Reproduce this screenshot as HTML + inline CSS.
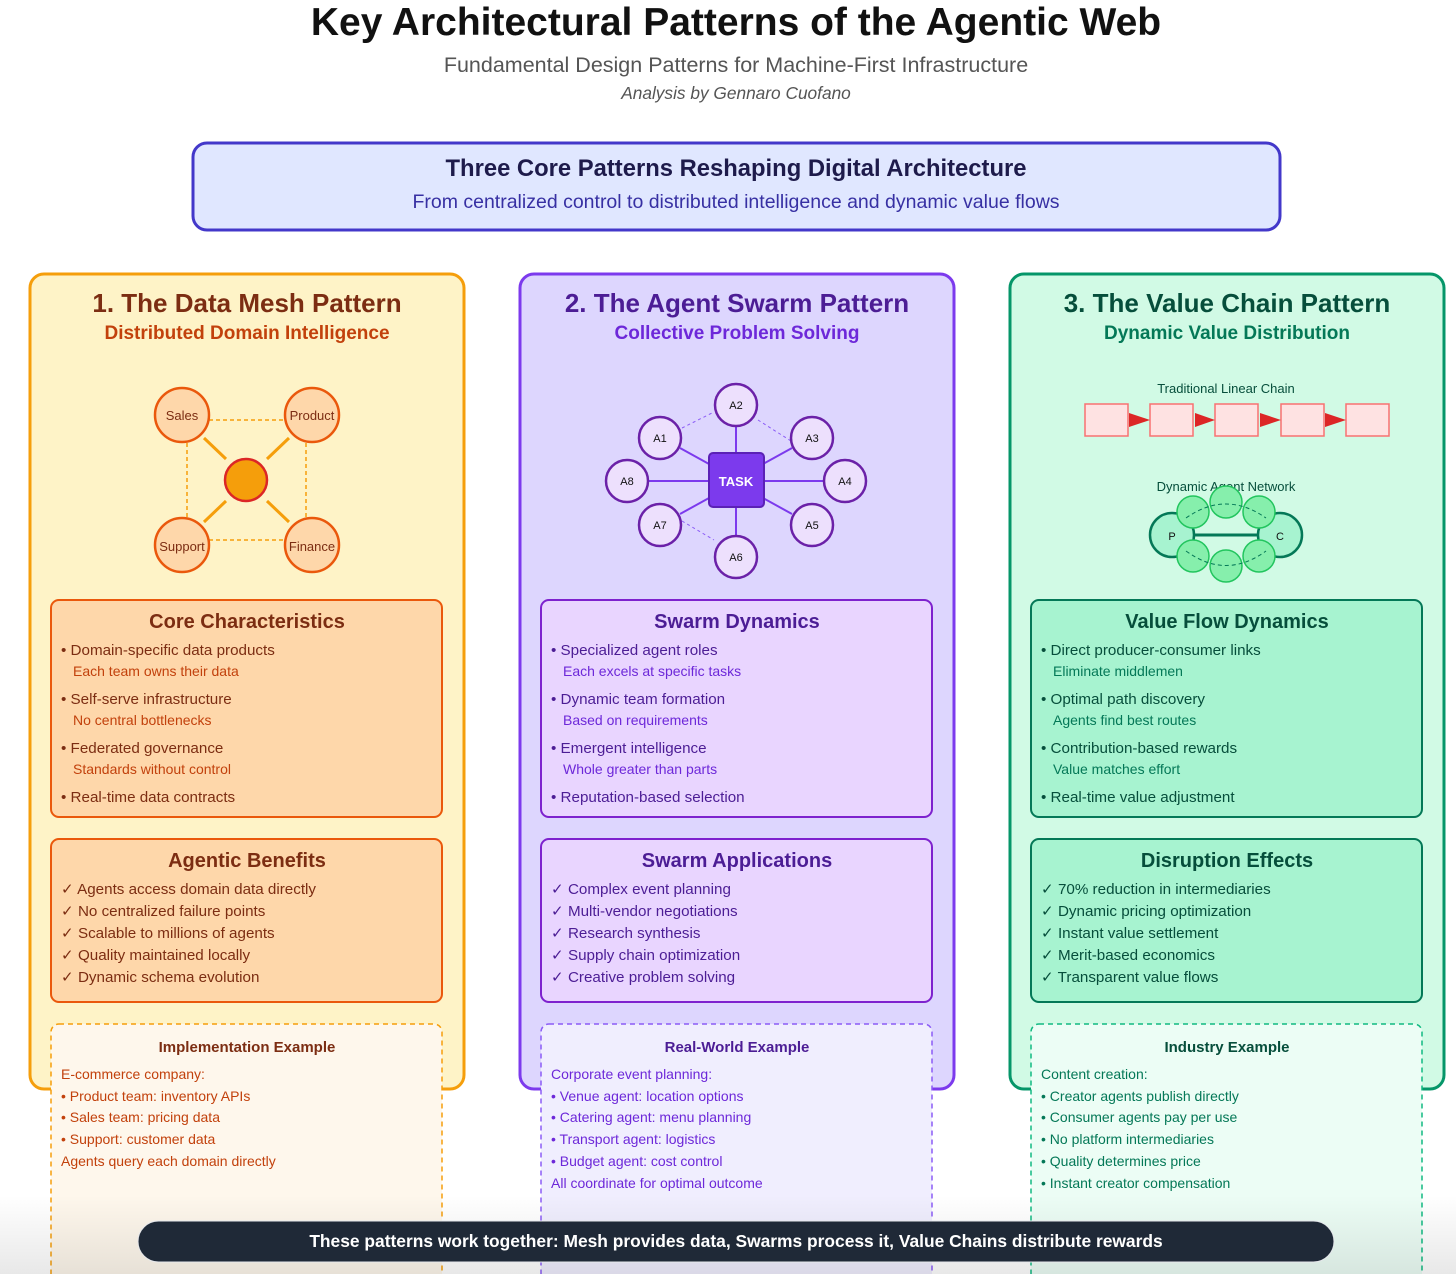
<!DOCTYPE html>
<html><head><meta charset="utf-8"><style>
html,body{margin:0;padding:0;background:#fff;}
svg{display:block;font-family:"Liberation Sans",Arial,sans-serif;}
</style></head><body>
<svg width="1456" height="1274" viewBox="0 0 1456 1274" xmlns="http://www.w3.org/2000/svg">
<defs>
<linearGradient id="fade" x1="0" y1="0" x2="0" y2="1">
<stop offset="0" stop-color="#000" stop-opacity="0"/>
<stop offset="1" stop-color="#000" stop-opacity="0.09"/>
</linearGradient>
</defs>
<rect width="1456" height="1274" fill="#fff"/>
<text x="736" y="35" text-anchor="middle" font-size="39" font-weight="bold" fill="#111">Key Architectural Patterns of the Agentic Web</text>
<text x="736" y="72" text-anchor="middle" font-size="21.5" fill="#555">Fundamental Design Patterns for Machine-First Infrastructure</text>
<text x="736" y="99" text-anchor="middle" font-size="17.3" font-style="italic" fill="#555">Analysis by Gennaro Cuofano</text>

<rect x="193" y="143" width="1087" height="87" rx="14" fill="#e0e7ff" stroke="#4338ca" stroke-width="3"/>
<text x="736" y="176" text-anchor="middle" font-size="23.8" font-weight="bold" fill="#1e1b4b">Three Core Patterns Reshaping Digital Architecture</text>
<text x="736" y="208" text-anchor="middle" font-size="19.5" fill="#3730a3">From centralized control to distributed intelligence and dynamic value flows</text>

<rect x="30" y="274" width="434" height="815" rx="14" fill="#fef3c7" stroke="#f59e0b" stroke-width="3"/>
<rect x="520" y="274" width="434" height="815" rx="14" fill="#ddd6fe" stroke="#7c3aed" stroke-width="3"/>
<rect x="1010" y="274" width="434" height="815" rx="14" fill="#d1fae5" stroke="#059669" stroke-width="3"/>

<g font-weight="bold" text-anchor="middle">
<text x="247" y="312" font-size="26" fill="#7c2d12">1. The Data Mesh Pattern</text>
<text x="247" y="339" font-size="19" fill="#c2410c">Distributed Domain Intelligence</text>
<text x="737" y="312" font-size="26" fill="#4c1d95">2. The Agent Swarm Pattern</text>
<text x="737" y="339" font-size="19" fill="#6d28d9">Collective Problem Solving</text>
<text x="1227" y="312" font-size="26" fill="#064e3b">3. The Value Chain Pattern</text>
<text x="1227" y="339" font-size="19" fill="#047857">Dynamic Value Distribution</text>
</g>

<g stroke="#f59e0b" stroke-width="1.5" stroke-dasharray="4,3" fill="none">
<line x1="209" y1="420" x2="285" y2="420"/><line x1="209" y1="540" x2="285" y2="540"/>
<line x1="187" y1="443" x2="187" y2="518"/><line x1="306" y1="443" x2="306" y2="518"/>
</g>
<g stroke="#f59e0b" stroke-width="3">
<line x1="204" y1="438" x2="226" y2="459"/><line x1="289" y1="438" x2="267" y2="459"/>
<line x1="204" y1="522" x2="226" y2="501"/><line x1="289" y1="522" x2="267" y2="501"/>
</g>
<g fill="#fed7aa" stroke="#ea580c" stroke-width="2.5">
<circle cx="182" cy="415" r="27"/><circle cx="312" cy="415" r="27"/>
<circle cx="182" cy="545" r="27"/><circle cx="312" cy="545" r="27"/>
</g>
<circle cx="246" cy="480" r="21" fill="#f59e0b" stroke="#dc2626" stroke-width="2.5"/>
<g font-size="13" fill="#7c2d12" text-anchor="middle">
<text x="182" y="420">Sales</text><text x="312" y="420">Product</text>
<text x="182" y="551">Support</text><text x="312" y="551">Finance</text>
</g>

<g stroke="#8b5cf6" stroke-width="1" stroke-dasharray="3,3">
<line x1="682" y1="428" x2="714" y2="412"/><line x1="758" y1="420" x2="791" y2="441"/>
<line x1="682" y1="521" x2="714" y2="540"/>
</g>
<g stroke="#7c3aed" stroke-width="2">
<line x1="736" y1="427" x2="736" y2="454"/><line x1="736" y1="507" x2="736" y2="535"/>
<line x1="649" y1="481" x2="709" y2="481"/><line x1="763" y1="481" x2="823" y2="481"/>
<line x1="680" y1="448" x2="709" y2="464"/><line x1="792" y1="448" x2="763" y2="464"/>
<line x1="680" y1="514" x2="709" y2="498"/><line x1="792" y1="514" x2="763" y2="498"/>
</g>
<g fill="#ede0fd" stroke="#6b21a8" stroke-width="2.5">
<circle cx="736" cy="405" r="21"/><circle cx="660" cy="438" r="21"/><circle cx="812" cy="438" r="21"/>
<circle cx="627" cy="481" r="21"/><circle cx="845" cy="481" r="21"/><circle cx="660" cy="525" r="21"/>
<circle cx="812" cy="525" r="21"/><circle cx="736" cy="557" r="21"/>
</g>
<rect x="709" y="453" width="55" height="54" rx="4" fill="#7c3aed" stroke="#5b21b6" stroke-width="2"/>
<text x="736" y="486" text-anchor="middle" font-size="13" font-weight="bold" fill="#fff">TASK</text>
<g font-size="11" fill="#111" text-anchor="middle">
<text x="736" y="409">A2</text><text x="660" y="442">A1</text><text x="812" y="442">A3</text>
<text x="627" y="485">A8</text><text x="845" y="485">A4</text><text x="660" y="529">A7</text>
<text x="812" y="529">A5</text><text x="736" y="561">A6</text>
</g>

<text x="1226" y="393" text-anchor="middle" font-size="13" fill="#064e3b">Traditional Linear Chain</text>
<g fill="#fee2e2" stroke="#f87171" stroke-width="1.5">
<rect x="1085" y="404" width="43" height="32"/><rect x="1150" y="404" width="43" height="32"/>
<rect x="1215" y="404" width="43" height="32"/><rect x="1281" y="404" width="43" height="32"/>
<rect x="1346" y="404" width="43" height="32"/>
</g>
<g fill="#dc2626">
<polygon points="1129,413 1150,420 1129,427"/><polygon points="1195,413 1215,420 1195,427"/>
<polygon points="1260,413 1281,420 1260,427"/><polygon points="1325,413 1346,420 1325,427"/>
</g>
<text x="1226" y="491" text-anchor="middle" font-size="13" fill="#064e3b">Dynamic Agent Network</text>
<circle cx="1172" cy="535" r="22" fill="#a7f3d0" stroke="#047857" stroke-width="2.5"/>
<circle cx="1280" cy="535" r="22" fill="#a7f3d0" stroke="#047857" stroke-width="2.5"/>
<line x1="1193" y1="535" x2="1259" y2="535" stroke="#047857" stroke-width="3"/>
<g fill="#86efac" stroke="#22c55e" stroke-width="1.5">
<circle cx="1193" cy="512" r="16"/><circle cx="1226" cy="502" r="16"/><circle cx="1259" cy="512" r="16"/>
<circle cx="1193" cy="556" r="16"/><circle cx="1226" cy="566" r="16"/><circle cx="1259" cy="556" r="16"/>
</g>
<g fill="none" stroke="#047857" stroke-width="1" stroke-dasharray="4,3">
<path d="M1186 518 Q1226 490 1266 518"/><path d="M1186 551 Q1226 580 1266 551"/>
</g>
<text x="1172" y="540" text-anchor="middle" font-size="11" fill="#111">P</text>
<text x="1280" y="540" text-anchor="middle" font-size="11" fill="#111">C</text>

<rect x="51" y="600" width="391" height="217" rx="8" fill="#fed7aa" stroke="#ea580c" stroke-width="2"/>
<text x="247" y="628" text-anchor="middle" font-size="20" font-weight="bold" fill="#7c2d12">Core Characteristics</text>
<g font-size="15.2" fill="#7c2d12">
<text x="61" y="655">• Domain-specific data products</text>
<text x="61" y="704">• Self-serve infrastructure</text>
<text x="61" y="753">• Federated governance</text>
<text x="61" y="802">• Real-time data contracts</text>
</g>
<g font-size="14" fill="#c2410c">
<text x="73" y="676">Each team owns their data</text>
<text x="73" y="725">No central bottlenecks</text>
<text x="73" y="774">Standards without control</text>
</g>
<rect x="51" y="839" width="391" height="163" rx="8" fill="#fed7aa" stroke="#ea580c" stroke-width="2"/>
<text x="247" y="867" text-anchor="middle" font-size="20" font-weight="bold" fill="#7c2d12">Agentic Benefits</text>
<g font-size="15.2" fill="#7c2d12">
<text x="61" y="894">✓ Agents access domain data directly</text>
<text x="61" y="916">✓ No centralized failure points</text>
<text x="61" y="938">✓ Scalable to millions of agents</text>
<text x="61" y="960">✓ Quality maintained locally</text>
<text x="61" y="982">✓ Dynamic schema evolution</text>
</g>
<rect x="51" y="1024" width="391" height="270" rx="8" fill="#fef7ec" stroke="#f59e0b" stroke-width="1.5" stroke-dasharray="5,4"/>
<text x="247" y="1052" text-anchor="middle" font-size="15" font-weight="bold" fill="#7c2d12">Implementation Example</text>
<g font-size="14" fill="#c2410c">
<text x="61" y="1079">E-commerce company:</text>
<text x="61" y="1101">• Product team: inventory APIs</text>
<text x="61" y="1122">• Sales team: pricing data</text>
<text x="61" y="1144">• Support: customer data</text>
<text x="61" y="1166">Agents query each domain directly</text>
</g>

<rect x="541" y="600" width="391" height="217" rx="8" fill="#e9d5ff" stroke="#7e22ce" stroke-width="2"/>
<text x="737" y="628" text-anchor="middle" font-size="20" font-weight="bold" fill="#4c1d95">Swarm Dynamics</text>
<g font-size="15.2" fill="#4c1d95">
<text x="551" y="655">• Specialized agent roles</text>
<text x="551" y="704">• Dynamic team formation</text>
<text x="551" y="753">• Emergent intelligence</text>
<text x="551" y="802">• Reputation-based selection</text>
</g>
<g font-size="14" fill="#6d28d9">
<text x="563" y="676">Each excels at specific tasks</text>
<text x="563" y="725">Based on requirements</text>
<text x="563" y="774">Whole greater than parts</text>
</g>
<rect x="541" y="839" width="391" height="163" rx="8" fill="#e9d5ff" stroke="#7e22ce" stroke-width="2"/>
<text x="737" y="867" text-anchor="middle" font-size="20" font-weight="bold" fill="#4c1d95">Swarm Applications</text>
<g font-size="15.2" fill="#4c1d95">
<text x="551" y="894">✓ Complex event planning</text>
<text x="551" y="916">✓ Multi-vendor negotiations</text>
<text x="551" y="938">✓ Research synthesis</text>
<text x="551" y="960">✓ Supply chain optimization</text>
<text x="551" y="982">✓ Creative problem solving</text>
</g>
<rect x="541" y="1024" width="391" height="270" rx="8" fill="#f0eefe" stroke="#8b5cf6" stroke-width="1.5" stroke-dasharray="5,4"/>
<text x="737" y="1052" text-anchor="middle" font-size="15" font-weight="bold" fill="#4c1d95">Real-World Example</text>
<g font-size="14" fill="#6d28d9">
<text x="551" y="1079">Corporate event planning:</text>
<text x="551" y="1101">• Venue agent: location options</text>
<text x="551" y="1122">• Catering agent: menu planning</text>
<text x="551" y="1144">• Transport agent: logistics</text>
<text x="551" y="1166">• Budget agent: cost control</text>
<text x="551" y="1188">All coordinate for optimal outcome</text>
</g>

<rect x="1031" y="600" width="391" height="217" rx="8" fill="#a7f3d0" stroke="#047857" stroke-width="2"/>
<text x="1227" y="628" text-anchor="middle" font-size="20" font-weight="bold" fill="#064e3b">Value Flow Dynamics</text>
<g font-size="15.2" fill="#064e3b">
<text x="1041" y="655">• Direct producer-consumer links</text>
<text x="1041" y="704">• Optimal path discovery</text>
<text x="1041" y="753">• Contribution-based rewards</text>
<text x="1041" y="802">• Real-time value adjustment</text>
</g>
<g font-size="14" fill="#047857">
<text x="1053" y="676">Eliminate middlemen</text>
<text x="1053" y="725">Agents find best routes</text>
<text x="1053" y="774">Value matches effort</text>
</g>
<rect x="1031" y="839" width="391" height="163" rx="8" fill="#a7f3d0" stroke="#047857" stroke-width="2"/>
<text x="1227" y="867" text-anchor="middle" font-size="20" font-weight="bold" fill="#064e3b">Disruption Effects</text>
<g font-size="15.2" fill="#064e3b">
<text x="1041" y="894">✓ 70% reduction in intermediaries</text>
<text x="1041" y="916">✓ Dynamic pricing optimization</text>
<text x="1041" y="938">✓ Instant value settlement</text>
<text x="1041" y="960">✓ Merit-based economics</text>
<text x="1041" y="982">✓ Transparent value flows</text>
</g>
<rect x="1031" y="1024" width="391" height="270" rx="8" fill="#ecfdf5" stroke="#10b981" stroke-width="1.5" stroke-dasharray="5,4"/>
<text x="1227" y="1052" text-anchor="middle" font-size="15" font-weight="bold" fill="#064e3b">Industry Example</text>
<g font-size="14" fill="#047857">
<text x="1041" y="1079">Content creation:</text>
<text x="1041" y="1101">• Creator agents publish directly</text>
<text x="1041" y="1122">• Consumer agents pay per use</text>
<text x="1041" y="1144">• No platform intermediaries</text>
<text x="1041" y="1166">• Quality determines price</text>
<text x="1041" y="1188">• Instant creator compensation</text>
</g>

<rect x="0" y="1195" width="1456" height="79" fill="url(#fade)"/>
<rect x="138" y="1221" width="1196" height="41" rx="20.5" fill="#1f2937" stroke="#e5e7eb" stroke-width="1"/>
<text x="736" y="1247" text-anchor="middle" font-size="17.4" font-weight="bold" fill="#fff">These patterns work together: Mesh provides data, Swarms process it, Value Chains distribute rewards</text>
</svg>
</body></html>
